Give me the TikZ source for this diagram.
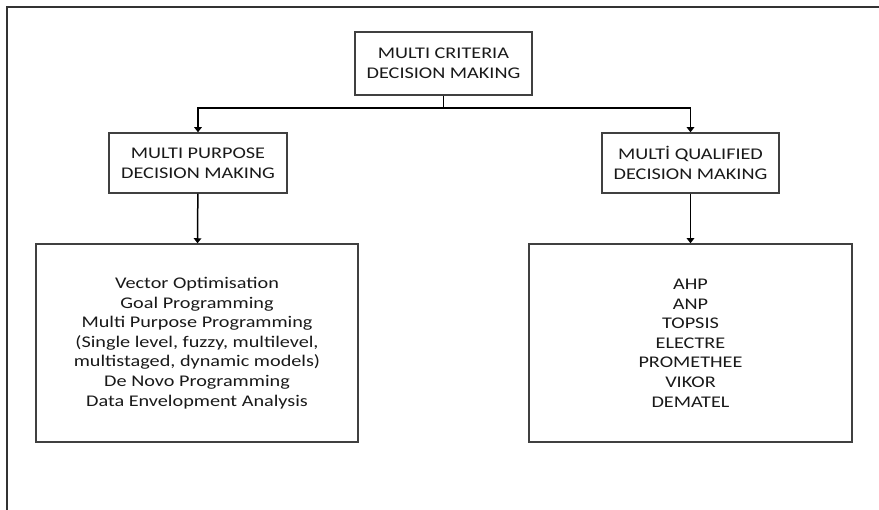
\documentclass[tikz,border=0pt]{standalone}
\usepackage{fontspec}
\setmainfont[FakeStretch=1.24]{Carlito}
\usetikzlibrary{arrows.meta}

\tikzset{
  box/.style={draw=black!75, line width=1.5pt, align=center, inner sep=0pt,
    text=black!90, font=\fontsize{16.3}{19.6}\selectfont},
  link/.style={line width=1.5pt, -{Triangle[length=5pt,width=7.5pt]}}
}

\begin{document}
\begin{tikzpicture}[x=1pt,y=-1pt]
  \useasboundingbox (0,0) rectangle (879,510);
  % outer frame
  \draw[line width=1.5pt, black!80] (879,7) -- (7,7) -- (7,510);

  \node[box, minimum width=177pt, minimum height=63pt] (mcdm) at (443.5,63.5)
    {MULTI CRITERIA\\DECISION MAKING};
  \node[box, minimum width=178pt, minimum height=60pt] (mpdm) at (198,163)
    {MULTI PURPOSE\\DECISION MAKING};
  \node[box, minimum width=177pt, minimum height=60pt] (mqdm) at (690.5,163)
    {MULTİ QUALIFIED\\DECISION MAKING};

  \node[box, minimum width=322pt, minimum height=198pt] (mpmeth) at (197,343)
    {Vector Optimisation\\Goal Programming\\Multi Purpose Programming\\
     (Single level, fuzzy, multilevel,\\multistaged, dynamic models)\\
     De Novo Programming\\Data Envelopment Analysis};
  \node[box, minimum width=323pt, minimum height=198pt] (mqmeth) at (690.5,343)
    {AHP\\ANP\\TOPSIS\\ELECTRE\\PROMETHEE\\VIKOR\\DEMATEL};

  \coordinate (split) at (443.5,108);
  \draw[line width=1.5pt] (mcdm) -- (split);
  \draw[link] (split) -| (mpdm);
  \draw[link] (split) -| (mqdm);
  \draw[link] (mpdm) -- (mpmeth);
  \draw[link] (mqdm) -- (mqmeth);
\end{tikzpicture}
\end{document}
